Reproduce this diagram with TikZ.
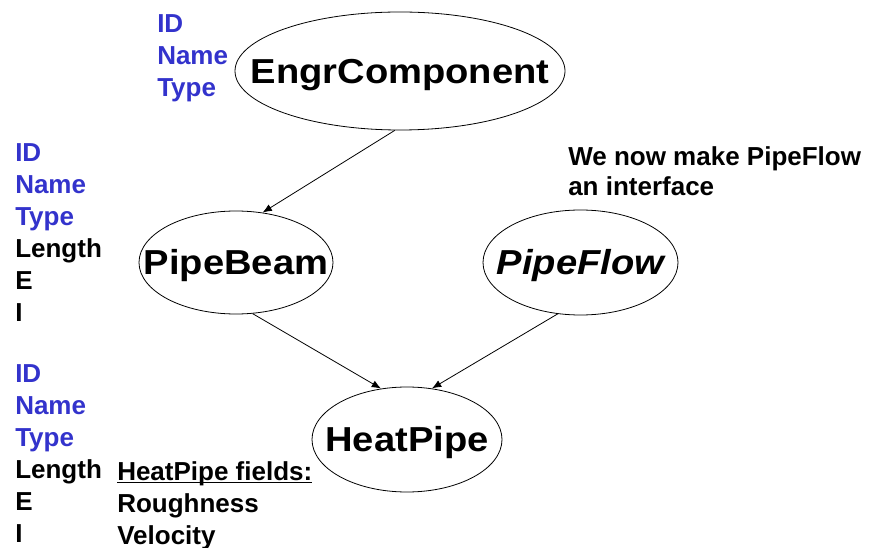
\documentclass[tikz,border=0pt]{standalone}
\usepackage{fontspec}
\setmainfont{Liberation Sans}
\usepackage{graphicx}
\usetikzlibrary{shapes.geometric,arrows.meta}
\definecolor{fieldblue}{HTML}{3333CC}
\newcommand{\classname}[1]{\makebox[0pt]{\raisebox{-9.3pt}[0pt][0pt]{\scalebox{1.1}[1]{#1}}}}
\newcommand{\inherited}[1]{\textcolor{fieldblue}{#1}}
\tikzset{
  classnode/.style={ellipse, draw, line width=0.6pt, inner sep=0pt, font=\fontsize{26}{30}\selectfont\bfseries},
  fieldlist/.style={anchor=north west, inner sep=0pt, align=left, font=\fontsize{19.5}{24}\selectfont\bfseries},
  inherits/.style={-{Latex[length=7pt,width=5.5pt]}, line width=0.6pt}
}
\begin{document}
\begin{tikzpicture}[x=0.75pt, y=-0.75pt]
  \useasboundingbox (0,0) rectangle (873,548);

  % classes
  \node[classnode, minimum width=247.5pt, minimum height=88.5pt] (engr) at (400,71) {\classname{EngrComponent}};
  \node[classnode, minimum width=145.5pt, minimum height=77.25pt] (beam) at (236,262.5) {\classname{PipeBeam}};
  \node[classnode, minimum width=146.25pt, minimum height=78.75pt] (flow) at (580.5,262.5) {\classname{\itshape PipeFlow}};
  \node[classnode, minimum width=142.5pt, minimum height=78.75pt] (heat) at (407,439.5) {\classname{HeatPipe}};

  \draw[inherits] (engr.265) -- (beam.62);
  \draw[inherits] (beam.288) -- (heat.117);
  \draw[inherits] (flow.246) -- (heat.64.5);

  % fields
  \node[fieldlist] (engrfields) at (157,14.4) {\inherited{ID}\\\inherited{Name}\\\inherited{Type}};
  \node[fieldlist] (beamfields) at (15,143.4) {\inherited{ID}\\\inherited{Name}\\\inherited{Type}\\Length\\E\\I};
  \node[fieldlist] (heatfields) at (15,364.4) {\inherited{ID}\\\inherited{Name}\\\inherited{Type}\\Length\\E\\I};
  \node[fieldlist] (heatextra) at (117,480) {\underline{\smash{HeatPipe fields:}}\\Roughness\\Velocity};
  \node[fieldlist, font=\fontsize{19.5}{22.5}\selectfont\bfseries] (note) at (568,146) {We now make PipeFlow\\an interface};
\end{tikzpicture}
\end{document}
